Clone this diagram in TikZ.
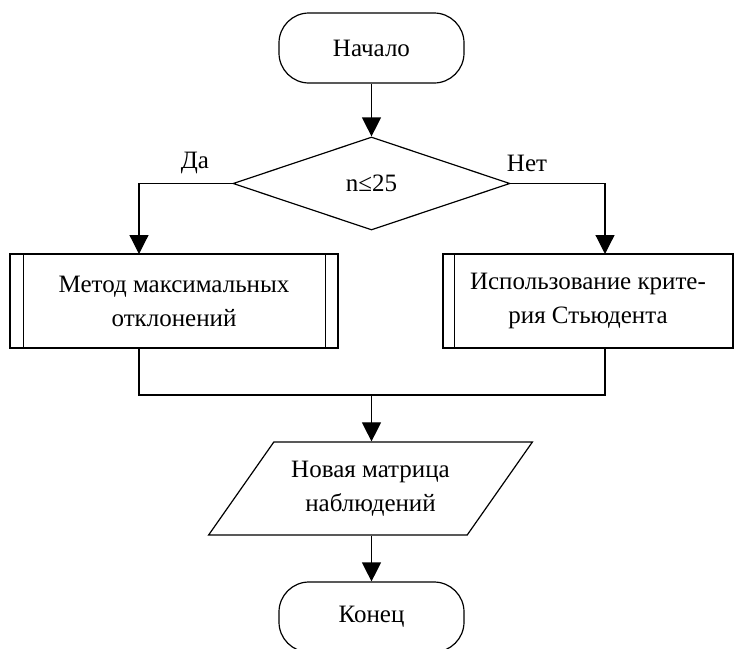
\documentclass[tikz,border=0pt]{standalone}
\usepackage{fontspec}
\setmainfont{Liberation Serif}
\usetikzlibrary{arrows.meta,shapes.geometric,positioning}

\begin{document}
\begin{tikzpicture}[x=1pt,y=-1pt,line width=1.2pt,
  font=\fontsize{25}{34}\selectfont,
  term/.style={draw,rectangle,rounded corners=30pt,minimum width=185pt,minimum height=70pt},
  cond/.style={draw,diamond,aspect=3,inner sep=0pt,minimum width=277pt,minimum height=93pt},
  proc/.style={draw,rectangle,align=center,minimum height=94pt,inner sep=0pt},
  io/.style={draw,trapezium,trapezium left angle=48,trapezium right angle=132,trapezium stretches=true,align=center,minimum width=325pt,minimum height=93pt},
  arr/.style={-{Triangle[length=19pt,width=19pt]}}]
  \useasboundingbox (0,0) rectangle (735,648);
  \node[term] (start) at (371.5,48) {Начало};
  \node[cond] (check) at (371.5,183.5) {n≤25};
  \node (yes) at (195,163) {Да};
  \node (no) at (527,163) {Нет};
  \node[proc,minimum width=328pt] (meth) at (174,301) {Метод максимальных\\отклонений};
  \node[proc,minimum width=290pt] (stud) at (588,301) {Использование крите-\\рия Стьюдента};
  \draw ([xshift=14pt]meth.north west) -- ([xshift=14pt]meth.south west);
  \draw ([xshift=-13pt]meth.north east) -- ([xshift=-13pt]meth.south east);
  \draw ([xshift=12pt]stud.north west) -- ([xshift=12pt]stud.south west);
  \node[io] (newm) at (370.5,488.5) {Новая матрица\\наблюдений};
  \node[term] (finish) at (371.5,617) {Конец};
  % branch and merge points
  \coordinate (inL) at (139,254);
  \coordinate (inR) at (605,254);
  \coordinate (mrgL) at (139,395);
  \coordinate (mrgR) at (605,395);
  \coordinate (mrg) at (371.5,395);
  \draw[arr] (start) -- (check);
  \draw[arr] (check.west) -| (inL);
  \draw[arr] (check.east) -| (inR);
  \draw (meth.south -| mrgL) -- (mrgL) -- (mrgR) -- (stud.south -| mrgR);
  \draw[arr] (mrg) -- (mrg |- newm.north);
  \draw[arr] (newm.south -| finish) -- (finish);
\end{tikzpicture}
\end{document}
